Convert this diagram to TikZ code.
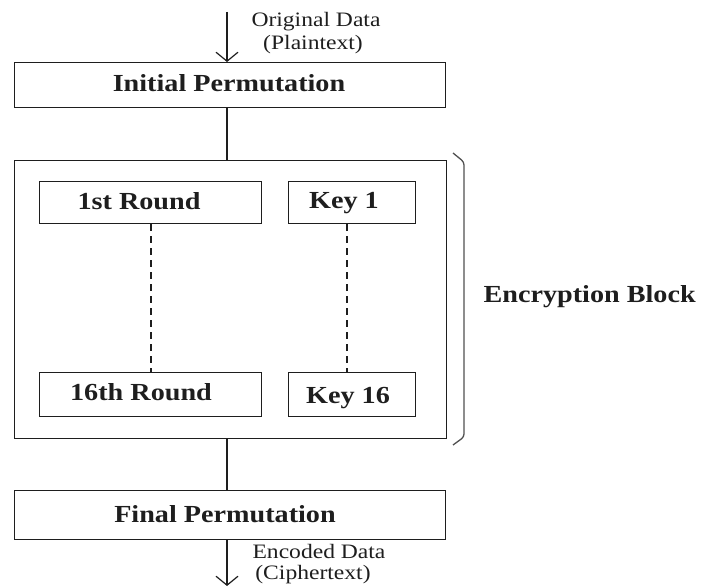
\documentclass[tikz,border=0pt]{standalone}
\usepackage{fontspec}
\setmainfont{Liberation Serif}[FakeStretch=1.15]
\usetikzlibrary{arrows.meta}
\definecolor{ink}{RGB}{30,30,30}
\definecolor{bracecol}{RGB}{80,80,80}
\tikzset{
  box/.style={draw=ink, rectangle, inner sep=0pt, anchor=north west},
  lbl/.style={inner sep=0pt, anchor=base, font=\fontsize{24.5}{28}\selectfont\bfseries, text=ink},
  note/.style={inner sep=0pt, anchor=base, font=\fontsize{20.5}{24}\selectfont, text=ink},
  flow/.style={draw=ink, line width=1.2pt},
  dataarrow/.style={flow, -{Straight Barb[length=9pt,width=22pt,line width=1.2pt]}},
  dots/.style={draw=ink, line width=1.2pt, dash pattern=on 7pt off 5pt},
}
\begin{document}
\begin{tikzpicture}[x=1pt, y=-1pt, line width=1.2pt]
\path[use as bounding box] (0,0) rectangle (705,588);

% main boxes
\node[box, minimum width=431pt, minimum height=45pt] (ip) at (14,62) {};
\node[box, minimum width=432pt, minimum height=278pt] (enc) at (14,160) {};
\node[box, minimum width=222pt, minimum height=42pt] (r1) at (39,181) {};
\node[box, minimum width=127pt, minimum height=42pt] (k1) at (288,181) {};
\node[box, minimum width=222pt, minimum height=44pt] (r16) at (39,372) {};
\node[box, minimum width=127pt, minimum height=44pt] (k16) at (288,372) {};
\node[box, minimum width=431pt, minimum height=49pt] (fp) at (14,490) {};

% box labels
\node[lbl] (tip) at (229,92) {Initial Permutation};
\node[lbl] (tr1) at (139,210) {1st Round};
\node[lbl] (tk1) at (344,209) {Key 1};
\node[lbl] (tr16) at (141,400) {16th Round};
\node[lbl] (tk16) at (348,403) {Key 16};
\node[lbl] (tfp) at (225,522) {Final Permutation};
\node[lbl, anchor=base west] (tenc) at (483,303) {Encryption Block};

% data in / out
\coordinate (din) at (227,12);
\coordinate (dout) at (227,586);
\draw[dataarrow] (din) -- (din |- ip.north);
\draw[dataarrow] (fp.south -| dout) -- (dout);
\node[note] (orig) at (316,27) {Original Data};
\node[note] (plain) at (313,50) {(Plaintext)};
\node[note] (encd) at (319,558) {Encoded Data};
\node[note] (ciph) at (313,579) {(Ciphertext)};

% connectors
\draw[flow] (ip.south -| din) -- (enc.north -| din);
\draw[flow] (enc.south -| din) -- (fp.north -| din);
\coordinate (rx) at (151,0);
\coordinate (kx) at (347,0);
\draw[dots] (r1.south -| rx) -- (r16.north -| rx);
\draw[dots] (k1.south -| kx) -- (k16.north -| kx);

% bracket around the encryption block
\coordinate (b1) at (453,153);
\coordinate (b2) at (464,162);
\coordinate (b3) at (464,437);
\coordinate (b4) at (453,445);
\draw[bracecol, line width=1.3pt, rounded corners=3pt] (b1) -- (b2) -- (b3) -- (b4);
\end{tikzpicture}
\end{document}
